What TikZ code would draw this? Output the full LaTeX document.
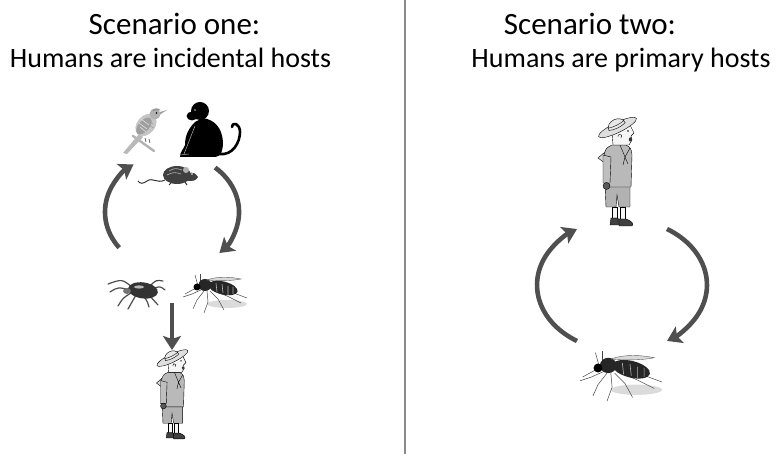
\documentclass[tikz,border=0pt]{standalone}
\usepackage{fontspec}
\setmainfont{Carlito}
\usetikzlibrary{arrows.meta}
\definecolor{arrowgray}{HTML}{4F4F4F}
\definecolor{rulegray}{HTML}{8A8A8A}

\tikzset{
  cyc/.style={line width=4.6pt, draw=arrowgray,
    -{Stealth[length=14pt,width=18pt,inset=3pt]}},
  headline/.style={font=\fontsize{31}{31}\selectfont, anchor=base, inner sep=0pt},
  subline/.style={font=\fontsize{28}{28}\selectfont, anchor=base, inner sep=0pt},
  outline/.style={draw=black, line width=0.4pt},
  % standing boy in a sailor suit, feet at the origin, facing right
  boy/.pic={
    \filldraw[outline, fill=gray!30] (-5,79) -- (-19,67) -- (-11,61) -- (-2,71) -- cycle;
    \filldraw[outline, fill=gray!60] (-11,18) -- (-1,18) -- (0,30) -- (2,18) -- (13,18) -- (13,42) -- (-12,42) -- cycle;
    \filldraw[outline, fill=gray!6] (-5,6) rectangle (0,18);
    \filldraw[outline, fill=gray!6] (3,5) rectangle (8,18);
    \filldraw[outline, fill=black!75] (-7,0) -- (4,0) -- (5,4) -- (0,7) -- (-6,7) -- cycle;
    \filldraw[outline, fill=black!75] (2,-1) -- (15,-1) .. controls (17,1) and (15,4) .. (9,6) -- (2,6) -- cycle;
    \filldraw[outline, fill=gray!55] (-12,38) -- (14,38) -- (15,70) .. controls (14,77) .. (9,80) -- (-5,80) .. controls (-11,77) .. (-13,70) -- cycle;
    \draw[outline] (3,80) -- (8,68) -- (13,77);
    \draw[outline] (8,68) -- (6,60) (8,68) -- (11,61);
    \filldraw[outline, fill=gray!50] (-14,70) -- (-14,42) -- (-7,42) -- (-6,68) -- cycle;
    \filldraw[outline, fill=black!65] (-10.5,39) circle (3.5);
    \filldraw[outline, fill=gray!8] (-4,80) -- (-5,93) -- (13,100) -- (17,92) -- (14,89) -- (15,85) -- (12,80) -- cycle;
    \fill[black!80] (13.4,85.5) ellipse (1.6 and 2.2);
    \fill (11,94) circle (0.9);
    \draw[outline] (1,88) arc[start angle=200, end angle=-60, radius=2];
    \begin{scope}[shift={(0.5,97.5)}, rotate=26]
      \filldraw[outline, fill=gray!25] (0,0) ellipse (21 and 5);
      \filldraw[outline, fill=gray!18] (-9,1) .. controls (-9,11) and (9,11) .. (9,1)
        .. controls (4,-1) and (-4,-1) .. (-9,1) -- cycle;
      \draw[outline] (-9,3.5) .. controls (-4,2) and (4,2) .. (9,3.5);
    \end{scope}
  },
  % mosquito, head at the origin, facing left
  mosquito/.pic={
    \fill[gray!28] (30,-17) ellipse (20 and 4);
    \begin{scope}[draw=gray!55!black, line width=0.5pt]
      \draw (6,-2) -- (-5,-7) -- (-14,-10);
      \draw (7,-4) -- (0,-13) -- (-4,-22);
      \draw (10,-4) -- (11,-15) -- (7,-26);
      \draw (13,-4) -- (21,-12) -- (27,-23);
      \draw (15,-3) -- (30,-9) -- (44,-16);
      \draw (14,-1) -- (34,-5) -- (50,-11);
      \draw (1,1) -- (-2,12);
      \draw (3,2) -- (3,13);
      \draw (-1,-1) -- (-12,-7);
    \end{scope}
    \fill[black!85] (8,2) ellipse (6.5 and 6);
    \fill[black!85, rotate around={-14:(26,-1)}] (26,-1) ellipse (15 and 6.5);
    \draw[gray!55, line width=0.6pt] (19,4) -- (20,-5) (25,3) -- (26,-6) (31,1) -- (31,-8) (36,0) -- (36,-7);
    \filldraw[draw=gray!55!black, fill=gray!35, line width=0.4pt, opacity=0.85]
      (10,7) .. controls (20,11) and (35,10) .. (44,8) .. controls (35,6) and (20,6) .. (10,7) -- cycle;
    \fill[black] (0,0) circle (3.5);
  },
  % tick, body centre at the origin, facing left
  tick/.pic={
    \begin{scope}[draw=black!70, line width=1.2pt, line cap=round]
      \draw (-8,3) .. controls (-18,11) .. (-32,6);
      \draw (-10,0) .. controls (-22,3) .. (-30,-2);
      \draw (-9,-3) .. controls (-17,-8) .. (-22,-16);
      \draw (-4,-5) .. controls (-8,-12) .. (-12,-19);
      \draw (4,-6) .. controls (8,-13) .. (9,-17);
      \draw (9,-5) .. controls (14,-10) .. (18,-15);
      \draw (12,1) .. controls (20,4) .. (25,0);
      \draw (10,4) .. controls (16,10) .. (23,9);
    \end{scope}
    \fill[black!80, rotate=-8] (3,0) ellipse (15 and 8);
    \fill[black!55] (-13,-1) ellipse (4 and 3);
    \fill[gray!55] (-1,3) ellipse (5 and 1.6);
  },
  % rat, body centre at the origin, facing right
  rat/.pic={
    \draw[black!80, line width=1pt] (-12,-5) .. controls (-20,-9) and (-24,-2) .. (-30,-6)
      .. controls (-34,-9) and (-37,-9) .. (-39,-6);
    \fill[black!75] (0,0) ellipse (14 and 9);
    \fill[black!75] (9,-6) .. controls (12,4) and (16,5) .. (21,-2) .. controls (18,-6) .. (9,-6) -- cycle;
    \fill[gray!60] (9,5) circle (3);
    \fill[white] (15,1) circle (0.8);
    \draw[gray!60, line width=0.6pt] (-8,4) .. controls (-2,7) .. (5,5) (-10,0) .. controls (-3,3) .. (4,1);
    \draw[black!80, line width=1pt] (-6,-8) -- (-8,-10) (8,-7) -- (10,-10);
  },
  % black monkey sitting upright, facing left
  monkey/.pic={
    \draw[black, line width=2.6pt, line cap=round] (14,-24) .. controls (28,-26) and (35,-12) .. (35,-2)
      .. controls (35,6) and (28,9) .. (27,3);
    \fill[black] (-2,12) .. controls (10,10) and (17,2) .. (18,-12) .. controls (18,-22) and (15,-27) .. (10,-27)
      -- (-25,-27) .. controls (-25,-22) and (-22,-20) .. (-20,-15)
      .. controls (-20,-5) and (-16,2) .. (-10,8) -- cycle;
    \fill[black] (-5,19) circle (9);
    \fill[black] (-13,14) ellipse (5.5 and 4.5);
    \draw[gray!60, line width=0.5pt] (-10,4) .. controls (-14,-6) and (-17,-14) .. (-21,-24);
    \draw[gray!60, line width=0.5pt] (-16,-24) -- (-25,-25);
    \fill[gray!50] (-10,20) circle (0.9);
  },
  % songbird perched on a twig, facing right
  bird/.pic={
    \draw[gray!60, line width=2.4pt, line cap=round] (-12,-6) -- (9,-21);
    \fill[gray!55] (-6,-4) -- (-22,-23) -- (-18,-24) -- (-2,-7) -- cycle;
    \fill[gray!45, rotate around={-40:(1,5)}] (1,5) ellipse (9 and 12.5);
    \fill[gray!75, rotate around={-40:(-1,4)}] (-1,4) ellipse (5.5 and 10);
    \draw[gray!25, line width=0.6pt] (-6,7) -- (2,1) (-5,3) -- (1,-2) (-4,11) -- (4,5);
    \draw[gray!75, line width=0.6pt] (4,9) -- (8,6) (5,4) -- (9,2);
    \fill[gray!60] (10,16) circle (5.5);
    \fill[gray!80] (7,19) arc[start angle=150, end angle=40, radius=5.3] -- cycle;
    \fill[gray!75] (15,18) -- (22,20) -- (15,15.5) -- cycle;
    \fill[black] (11.5,17) circle (0.8);
    \draw[black!70, line width=0.7pt] (0,-8) -- (1,-12) (4,-9) -- (5,-13);
  }
}

\begin{document}
\begin{tikzpicture}[x=1pt, y=1pt]
\useasboundingbox (0,0) rectangle (776,454);

% divider between the two scenarios
\coordinate (rtop) at (405,454);
\coordinate (rbot) at (405,0);
\draw[rulegray, line width=1.3pt] (rtop) -- (rbot);

% headings
\node[headline] (t1) at (174.5,419) {Scenario one:};
\node[subline]  (s1) at (170.5,386) {Humans are incidental hosts};
\node[headline] (t2) at (590,419) {Scenario two:};
\node[subline]  (s2) at (621,386) {Humans are primary hosts};

% scenario one: animal reservoir
\pic at (145,324) {bird};
\pic at (205,324) {monkey};
\pic at (177,279) {rat};
% vectors
\pic at (140,164) {tick};
\pic at (197,167) {mosquito};
% incidental human host
\pic[scale=0.82] at (172,16) {boy};

% scenario two
\pic at (617,229) {boy};
\pic[scale=1.28] at (598,86) {mosquito};

% transmission cycle, scenario one
\coordinate (vecUp)   at (119.2,206.3);
\coordinate (hostDown) at (215.1,286.4);
\draw[cyc] (vecUp) arc[start angle=218, end angle=125, x radius=67, y radius=58];
\draw[cyc] (hostDown) arc[start angle=50, end angle=-45, x radius=67, y radius=58];

% spill-over to humans
\coordinate (vecL) at (172,151);
\coordinate (humL) at (172,104);
\draw[cyc] (vecL) -- (humL);

% transmission cycle, scenario two
\coordinate (mosqUp)   at (577,113);
\coordinate (humDown)  at (667,225);
\draw[cyc] (mosqUp) arc[start angle=238, end angle=122, x radius=85, y radius=66];
\draw[cyc] (humDown) arc[start angle=58, end angle=-58, x radius=85, y radius=66];
\end{tikzpicture}
\end{document}
